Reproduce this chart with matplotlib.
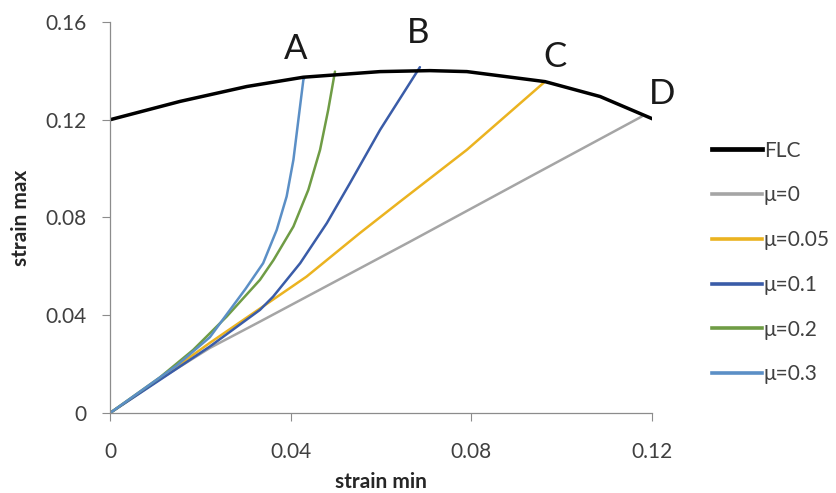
import matplotlib.pyplot as plt
from matplotlib.lines import Line2D

plt.rcParams["font.family"] = ["Lato", "DejaVu Sans"]

# forming limit curve
flc_x = [0, 0.0155, 0.0303, 0.0428, 0.0598, 0.0708, 0.079, 0.0963, 0.1085, 0.1203]
flc_y = [0.12, 0.1275, 0.1336, 0.1374, 0.1397, 0.1401, 0.1397, 0.1356, 0.1295, 0.1202]

# strain paths per friction coefficient
mu0_x = [0, 0.011, 0.0221, 0.0332, 0.0664, 0.0937, 0.1177]
mu0_y = [0, 0.0138, 0.0266, 0.0374, 0.0701, 0.0974, 0.1213]

mu005_x = [0, 0.011, 0.0221, 0.0398, 0.0435, 0.0553, 0.0642, 0.079, 0.0963]
mu005_y = [0, 0.014, 0.0287, 0.0511, 0.0558, 0.0736, 0.0865, 0.1077, 0.1356]

mu01_x = [0, 0.011, 0.0221, 0.0332, 0.0361, 0.0421, 0.048, 0.0531, 0.0598, 0.0686]
mu01_y = [0, 0.0135, 0.0272, 0.0422, 0.0476, 0.0613, 0.0777, 0.094, 0.1159, 0.1415]

mu02_x = [0, 0.011, 0.0184, 0.0258, 0.0332, 0.0362, 0.0406, 0.0439, 0.0465, 0.0483, 0.0498]
mu02_y = [0, 0.0145, 0.0258, 0.0394, 0.0545, 0.0626, 0.0763, 0.0913, 0.1077, 0.124, 0.1397]

mu03_x = [0, 0.0148, 0.0221, 0.03, 0.0339, 0.0369, 0.0391, 0.0406, 0.0417, 0.0428, 0.043]
mu03_y = [0, 0.0195, 0.031, 0.0508, 0.0613, 0.0749, 0.0886, 0.1036, 0.12, 0.1363, 0.137]

series = [
    ("μ=0", mu0_x, mu0_y, "#a5a5a5"),
    ("μ=0.05", mu005_x, mu005_y, "#ebb320"),
    ("μ=0.1", mu01_x, mu01_y, "#3a5ca8"),
    ("μ=0.2", mu02_x, mu02_y, "#6f9c45"),
    ("μ=0.3", mu03_x, mu03_y, "#5b8fc6"),
]

points = ["A", "B", "C", "D"]
point_x = [0.041, 0.0682, 0.0985, 0.1221]
point_y = [0.149, 0.1556, 0.1455, 0.1306]

fig = plt.figure(figsize=(8.36, 4.93), dpi=100)
ax = fig.add_axes([0.1316, 0.1623, 0.6484, 0.7931])

for label, xs, ys, c in series:
    ax.plot(xs, ys, color=c, lw=1.8, solid_capstyle="round", solid_joinstyle="round")
ax.plot(flc_x, flc_y, color="black", lw=2.5, solid_capstyle="round", solid_joinstyle="round")

handles = [Line2D([], [], color="black", lw=3.4, label="FLC")]
for label, xs, ys, c in series:
    handles.append(Line2D([], [], color=c, lw=2.6, label=label))

for t, px, py in zip(points, point_x, point_y):
    ax.text(px, py, t, fontsize=25, ha="center", va="center", color="#1a1a1a", clip_on=False)

ax.set_xlim(0, 0.12)
ax.set_ylim(0, 0.16)
ax.set_xticks([0, 0.04, 0.08, 0.12])
ax.set_xticklabels(["0", "0.04", "0.08", "0.12"])
ax.set_yticks([0, 0.04, 0.08, 0.12, 0.16])
ax.set_yticklabels(["0", "0.04", "0.08", "0.12", "0.16"])
ax.tick_params(labelsize=15, labelcolor="#404040", color="#8c8c8c", length=6, width=0.8, pad=11)
ax.tick_params(axis="x", pad=15)
for s in ["top", "right"]:
    ax.spines[s].set_visible(False)
for s in ["left", "bottom"]:
    ax.spines[s].set_color("#8c8c8c")
    ax.spines[s].set_linewidth(0.9)

ax.set_xlabel("strain min", fontsize=15, fontweight="bold", color="#262626", labelpad=7)
ax.set_ylabel("strain max", fontsize=15, fontweight="bold", color="#262626", labelpad=10)

fig.legend(handles=handles, loc="upper left", bbox_to_anchor=(0.829, 0.753),
           frameon=False, fontsize=15, handlelength=2.4, handletextpad=0.1,
           labelspacing=1.19, labelcolor="#404040")

fig.savefig("out.png", dpi=100)
